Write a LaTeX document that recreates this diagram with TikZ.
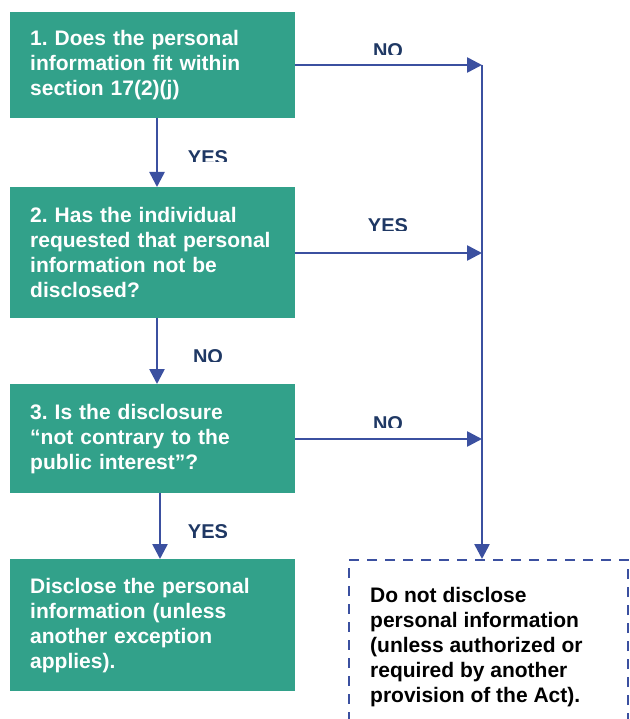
\documentclass[tikz,border=0pt]{standalone}
\usepackage{fontspec}
\setmainfont{Liberation Sans}
\usetikzlibrary{arrows.meta}
\definecolor{teal1}{RGB}{50,161,138}
\definecolor{arrblue}{RGB}{59,80,160}
\definecolor{navy}{RGB}{31,56,100}
\frenchspacing
\tikzset{
  qbox/.style={fill=teal1, draw=none, text=white, anchor=north west,
    align=left, text width=245pt, inner xsep=20pt, inner ysep=0pt,
    minimum width=285pt, font=\bfseries\fontsize{21}{25}\selectfont},
  arr/.style={draw=arrblue, line width=2.6pt, -{Triangle[length=15pt,width=15pt]}},
  dbox/.style={draw=arrblue, line width=2.4pt, dash pattern=on 10pt off 8pt,
    anchor=north west, minimum width=279pt, minimum height=190pt, inner sep=0pt},
  dtext/.style={text=black, anchor=north west, align=left, inner sep=0pt,
    font=\bfseries\fontsize{21}{25}\selectfont},
  lbl/.style={text=navy, anchor=north, inner sep=0pt,
    font=\bfseries\fontsize{20}{24}\selectfont}
}
\begin{document}
\begin{tikzpicture}[x=1pt,y=-1pt]
\useasboundingbox (0,0) rectangle (629,719);
\clip (0,0) rectangle (629,719);

% boxes
\node[qbox, minimum height=106pt] (b1) at (10,12)
  {1. Does the personal\\information fit within\\section 17(2)(j)};
\node[qbox, minimum height=131pt] (b2) at (10,187)
  {2. Has the individual\\requested that personal\\information not be\\disclosed?};
\node[qbox, minimum height=109pt] (b3) at (10,384)
  {3. Is the disclosure\\``not contrary to the\\public interest''?};
\node[qbox, minimum height=132pt] (b4) at (10,559)
  {Disclose the personal\\information (unless\\another exception\\applies).};

\node[dbox] (d) at (348,559) {};
\node[dtext] (dt) at (370,587)
  {Do not disclose\\personal information\\(unless authorized or\\required by another\\provision of the Act).};

% helper coordinates
\coordinate (v) at (482,0);
\coordinate (xa) at (157,0);
\coordinate (xb) at (160,0);
\coordinate (j1) at (482,65);
\coordinate (j2) at (482,253);
\coordinate (j3) at (482,439);

% vertical arrows on the left
\draw[arr] (b1.south -| xa) -- (b2.north -| xa);
\draw[arr] (b2.south -| xa) -- (b3.north -| xa);
\draw[arr] (b3.south -| xb) -- (b4.north -| xb);

% horizontal arrows
\draw[arr] (b1.east |- j1) -- (j1);
\draw[arr] (b2.east |- j2) -- (j2);
\draw[arr] (b3.east |- j3) -- (j3);

% right vertical line to dashed box
\draw[arr] (j1) -- (d.north -| v);

% labels (clipped at the bottom as in the original)
\begin{scope}\clip (340,38) rectangle (440,55);
\node[lbl] (l1) at (388,43) {NO};\end{scope}
\begin{scope}\clip (160,145) rectangle (260,162);
\node[lbl] (l2) at (208,150) {YES};\end{scope}
\begin{scope}\clip (340,213) rectangle (440,230);
\node[lbl] (l3) at (388,218) {YES};\end{scope}
\begin{scope}\clip (160,344) rectangle (260,361);
\node[lbl] (l4) at (208,349) {NO};\end{scope}
\begin{scope}\clip (340,411) rectangle (440,427);
\node[lbl] (l5) at (388,416) {NO};\end{scope}
\begin{scope}\clip (160,519) rectangle (260,537);
\node[lbl] (l6) at (208,524) {YES};\end{scope}
\end{tikzpicture}
\end{document}
